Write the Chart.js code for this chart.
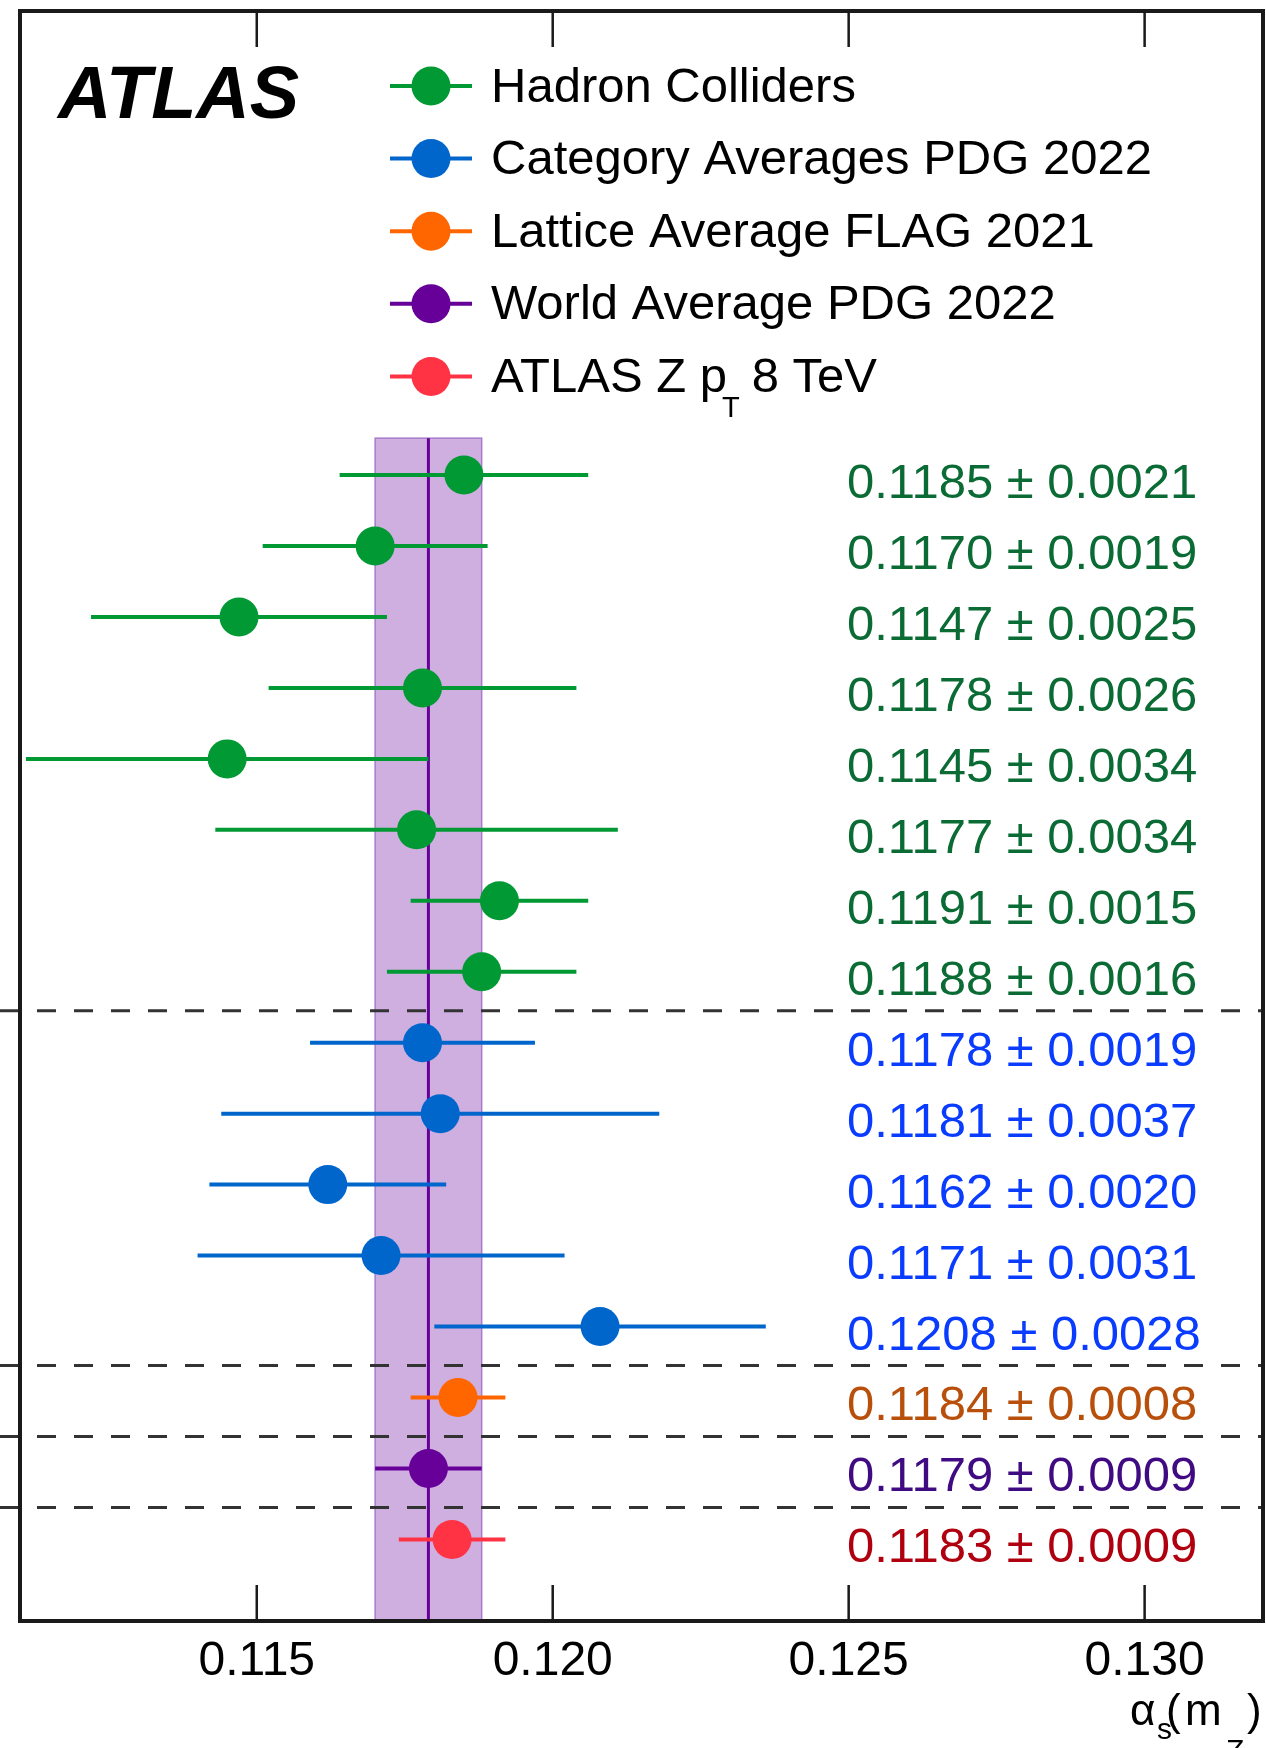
<!DOCTYPE html>
<html>
<head>
<meta charset="utf-8">
<title>alpha_s(mZ) summary</title>
<script src="https://cdn.jsdelivr.net/npm/chart.js@4.4.0/dist/chart.umd.min.js"></script>
<style>
  html, body { margin: 0; padding: 0; background: #fff; overflow: hidden; }
  #wrap { width: 1266px; height: 1748px; overflow: hidden; }
  canvas { display: block; }
</style>
</head>
<body>
<div id="wrap"><canvas id="alphaChart" width="1266" height="1748"></canvas></div>
<script>
// alpha_s(mZ) determinations, listed top to bottom
const hadronValues = [0.1185, 0.1170, 0.1147, 0.1178, 0.1145, 0.1177, 0.1191, 0.1188];
const hadronErrors = [0.0021, 0.0019, 0.0025, 0.0026, 0.0034, 0.0034, 0.0015, 0.0016];
const pdgCategoryValues = [0.1178, 0.1181, 0.1162, 0.1171, 0.1208];
const pdgCategoryErrors = [0.0019, 0.0037, 0.0020, 0.0031, 0.0028];
const flagValues = [0.1184];
const flagErrors = [0.0008];
const worldAvgValues = [0.1179];
const worldAvgErrors = [0.0009];
const atlasZptValues = [0.1183];
const atlasZptErrors = [0.0009];

const seriesNames = ['Hadron Colliders', 'Category Averages PDG 2022', 'Lattice Average FLAG 2021',
                     'World Average PDG 2022', 'ATLAS Z p_T 8 TeV'];
const xTickValues = [0.115, 0.120, 0.125, 0.130];
const xTickLabels = ['0.115', '0.120', '0.125', '0.130'];

const FONT = '"Liberation Sans", Arial, Helvetica, sans-serif';

// marker colour / label colour per group
const markerColors = ['#009933', '#0066cc', '#ff6600', '#660099', '#ff3344'];
const labelColors = ['#0b6b34', '#0a3cff', '#b8500c', '#3f0a82', '#b0000f'];

// build one scatter dataset per group, rows counted down from the top
const groups = [
  [hadronValues, hadronErrors],
  [pdgCategoryValues, pdgCategoryErrors],
  [flagValues, flagErrors],
  [worldAvgValues, worldAvgErrors],
  [atlasZptValues, atlasZptErrors]
];
let row = 0;
const separatorRows = [];
const datasets = groups.map(([vals, errs], g) => {
  const data = vals.map(v => ({ x: v, y: row++ }));
  if (g < groups.length - 1) separatorRows.push(row - 0.45);
  return {
    label: seriesNames[g],
    data: data,
    errors: errs,
    labelColor: labelColors[g],
    backgroundColor: markerColors[g],
    borderWidth: 0,
    pointRadius: 19.5,
    pointHoverRadius: 19.5,
    showLine: false
  };
});

const atlasPlot = {
  id: 'atlasPlot',
  beforeDatasetsDraw(chart) {
    const { ctx, chartArea: a, scales: { x, y } } = chart;
    ctx.save();

    // world average band with its central value
    const wa = worldAvgValues[0], we = worldAvgErrors[0];
    const bx0 = x.getPixelForValue(wa - we), bx1 = x.getPixelForValue(wa + we);
    const by0 = y.getPixelForValue(-0.52);
    ctx.fillStyle = '#cfaee0';
    ctx.fillRect(bx0, by0, bx1 - bx0, a.bottom - by0);
    ctx.strokeStyle = '#a77ccc';
    ctx.lineWidth = 1.5;
    ctx.strokeRect(bx0, by0, bx1 - bx0, a.bottom - by0);
    ctx.strokeStyle = '#660099';
    ctx.lineWidth = 3;
    ctx.beginPath();
    ctx.moveTo(x.getPixelForValue(wa), by0);
    ctx.lineTo(x.getPixelForValue(wa), a.bottom);
    ctx.stroke();

    // dashed separators between groups
    ctx.strokeStyle = '#333';
    ctx.lineWidth = 3;
    ctx.setLineDash([19, 18]);
    separatorRows.forEach(r => {
      const py = y.getPixelForValue(r);
      ctx.beginPath();
      ctx.moveTo(0, py);
      ctx.lineTo(a.right, py);
      ctx.stroke();
    });
    ctx.setLineDash([]);

    // horizontal error bars
    ctx.lineWidth = 4;
    chart.data.datasets.forEach(ds => {
      ctx.strokeStyle = ds.backgroundColor;
      ds.data.forEach((p, i) => {
        const py = y.getPixelForValue(p.y);
        ctx.beginPath();
        ctx.moveTo(x.getPixelForValue(p.x - ds.errors[i]), py);
        ctx.lineTo(x.getPixelForValue(p.x + ds.errors[i]), py);
        ctx.stroke();
      });
    });
    ctx.restore();
  },
  afterDatasetsDraw(chart) {
    const { ctx, chartArea: a, scales: { x, y } } = chart;
    ctx.save();

    // frame and inward ticks
    ctx.strokeStyle = '#1a1a1a';
    ctx.lineWidth = 4;
    ctx.strokeRect(a.left, a.top, a.right - a.left, a.bottom - a.top);
    ctx.lineWidth = 2.5;
    xTickValues.forEach(v => {
      const px = x.getPixelForValue(v);
      ctx.beginPath();
      ctx.moveTo(px, a.top);
      ctx.lineTo(px, a.top + 36);
      ctx.moveTo(px, a.bottom);
      ctx.lineTo(px, a.bottom - 36);
      ctx.stroke();
    });

    // tick labels
    ctx.fillStyle = '#000';
    ctx.font = '48px ' + FONT;
    ctx.textAlign = 'center';
    ctx.textBaseline = 'alphabetic';
    xTickValues.forEach((v, i) => ctx.fillText(xTickLabels[i], x.getPixelForValue(v), a.bottom + 54));

    // axis title alpha_s(m_Z)
    ctx.textAlign = 'left';
    ctx.font = '44px ' + FONT;
    ctx.fillText('\u03B1', 1130, 1725);
    ctx.fillText('(', 1166, 1725);
    ctx.fillText('m', 1185, 1725);
    ctx.fillText(')', 1247, 1725);
    ctx.font = '30px ' + FONT;
    ctx.fillText('s', 1157, 1739);
    ctx.fillText('Z', 1226, 1760);

    // value labels on the right
    ctx.font = '49px ' + FONT;
    chart.data.datasets.forEach(ds => {
      ctx.fillStyle = ds.labelColor;
      ds.data.forEach((p, i) => {
        ctx.fillText(p.x.toFixed(4) + ' \u00B1 ' + ds.errors[i].toFixed(4), 847, y.getPixelForValue(p.y) + 23);
      });
    });

    // ATLAS label
    ctx.fillStyle = '#000';
    ctx.font = 'italic bold 74px ' + FONT;
    ctx.fillText('ATLAS', 58, 118);

    // legend
    chart.data.datasets.forEach((ds, i) => {
      const cy = 86 + 72.6 * i;
      ctx.strokeStyle = ds.backgroundColor;
      ctx.lineWidth = 4;
      ctx.beginPath();
      ctx.moveTo(390, cy);
      ctx.lineTo(472, cy);
      ctx.stroke();
      ctx.fillStyle = ds.backgroundColor;
      ctx.beginPath();
      ctx.arc(431, cy, 19.5, 0, Math.PI * 2);
      ctx.fill();

      ctx.fillStyle = '#000';
      ctx.font = '49px ' + FONT;
      const parts = ds.label.split('_');
      if (parts.length === 1) {
        ctx.fillText(ds.label, 491, cy + 15.5);
      } else {
        // subscript: "p" then small "T", rest follows
        ctx.fillText(parts[0], 491, cy + 15.5);
        const w = ctx.measureText(parts[0]).width;
        const sub = parts[1].charAt(0);
        const rest = parts[1].slice(1).trim();
        ctx.font = '29px ' + FONT;
        ctx.fillText(sub, 491 + w - 5, cy + 41);
        const sw = ctx.measureText(sub).width;
        ctx.font = '49px ' + FONT;
        ctx.fillText(rest, 491 + w - 5 + sw + 12, cy + 15.5);
      }
    });
    ctx.restore();
  }
};

new Chart(document.getElementById('alphaChart'), {
  type: 'scatter',
  data: { datasets: datasets },
  options: {
    responsive: false,
    animation: false,
    layout: { autoPadding: false, padding: { left: 20, right: 3, top: 11, bottom: 127 } },
    plugins: {
      legend: { display: false },
      tooltip: { enabled: false }
    },
    scales: {
      x: { type: 'linear', min: 0.1110, max: 0.1320, display: false },
      y: { type: 'linear', min: -6.54, max: 16.15, reverse: true, display: false }
    }
  },
  plugins: [atlasPlot]
});
</script>
</body>
</html>
